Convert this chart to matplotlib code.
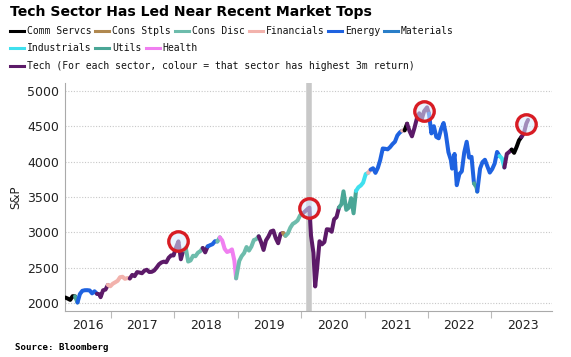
import numpy as np
import pandas as pd
import matplotlib
matplotlib.use("Agg")
import matplotlib.pyplot as plt
from matplotlib.lines import Line2D

# S&P 500, roughly fortnightly closes
dates = [
    "2016-04-15", "2016-04-29", "2016-05-13", "2016-05-27", "2016-06-10", "2016-06-24",
    "2016-07-08", "2016-07-22", "2016-08-05", "2016-08-19", "2016-09-02", "2016-09-16",
    "2016-09-30", "2016-10-14", "2016-10-28", "2016-11-04", "2016-11-18", "2016-12-02",
    "2016-12-16", "2016-12-30",
    "2017-01-13", "2017-01-27", "2017-02-10", "2017-02-24", "2017-03-10", "2017-03-24",
    "2017-04-07", "2017-04-21", "2017-05-05", "2017-05-19", "2017-06-02", "2017-06-16",
    "2017-06-30", "2017-07-14", "2017-07-28", "2017-08-11", "2017-08-25", "2017-09-08",
    "2017-09-22", "2017-10-06", "2017-10-20", "2017-11-03", "2017-11-17", "2017-12-01",
    "2017-12-15", "2017-12-29",
    "2018-01-12", "2018-01-26", "2018-02-09", "2018-02-23", "2018-03-09", "2018-03-23",
    "2018-04-06", "2018-04-20", "2018-05-04", "2018-05-18", "2018-06-01", "2018-06-15",
    "2018-06-29", "2018-07-13", "2018-07-27", "2018-08-10", "2018-08-24", "2018-09-07",
    "2018-09-21", "2018-10-05", "2018-10-19", "2018-11-02", "2018-11-16", "2018-11-30",
    "2018-12-14", "2018-12-24",
    "2019-01-11", "2019-01-25", "2019-02-08", "2019-02-22", "2019-03-08", "2019-03-22",
    "2019-04-05", "2019-04-19", "2019-05-03", "2019-05-17", "2019-05-31", "2019-06-14",
    "2019-06-28", "2019-07-12", "2019-07-26", "2019-08-09", "2019-08-23", "2019-09-06",
    "2019-09-20", "2019-10-04", "2019-10-18", "2019-11-01", "2019-11-15", "2019-11-29",
    "2019-12-13", "2019-12-27",
    "2020-01-10", "2020-01-24", "2020-02-07", "2020-02-19", "2020-02-28", "2020-03-13",
    "2020-03-23", "2020-04-03", "2020-04-17", "2020-05-01", "2020-05-15", "2020-05-29",
    "2020-06-12", "2020-06-26", "2020-07-10", "2020-07-24", "2020-08-07", "2020-08-21",
    "2020-09-02", "2020-09-18", "2020-10-02", "2020-10-16", "2020-10-30", "2020-11-13",
    "2020-11-27", "2020-12-11", "2020-12-24",
    "2021-01-08", "2021-01-22", "2021-02-05", "2021-02-19", "2021-03-05", "2021-03-19",
    "2021-04-01", "2021-04-16", "2021-04-30", "2021-05-14", "2021-05-28", "2021-06-11",
    "2021-06-25", "2021-07-09", "2021-07-23", "2021-08-06", "2021-08-20", "2021-09-03",
    "2021-09-17", "2021-10-01", "2021-10-15", "2021-10-29", "2021-11-12", "2021-11-26",
    "2021-12-10", "2021-12-27",
    "2022-01-07", "2022-01-21", "2022-02-04", "2022-02-18", "2022-03-04", "2022-03-18",
    "2022-04-01", "2022-04-14", "2022-04-29", "2022-05-13", "2022-05-20", "2022-06-03",
    "2022-06-16", "2022-07-01", "2022-07-15", "2022-07-29", "2022-08-12", "2022-08-26",
    "2022-09-09", "2022-09-23", "2022-10-07", "2022-10-12", "2022-10-28", "2022-11-11",
    "2022-11-25", "2022-12-09", "2022-12-23",
    "2023-01-06", "2023-01-20", "2023-02-03", "2023-02-17", "2023-03-03", "2023-03-17",
    "2023-03-31", "2023-04-14", "2023-04-28", "2023-05-12", "2023-05-26", "2023-06-09",
    "2023-06-23", "2023-07-07", "2023-07-21", "2023-07-31",
]
spx = [
    2080, 2065, 2047, 2099, 2096, 2010,
    2130, 2175, 2183, 2184, 2180, 2139,
    2168, 2133, 2126, 2085, 2182, 2192,
    2258, 2239,
    2275, 2295, 2316, 2367, 2373, 2344,
    2355, 2349, 2399, 2382, 2439, 2433,
    2423, 2459, 2472, 2441, 2443, 2461,
    2502, 2549, 2575, 2587, 2578, 2642,
    2675, 2674,
    2786, 2873, 2620, 2747, 2786, 2588,
    2604, 2670, 2663, 2713, 2735, 2780,
    2718, 2801, 2819, 2833, 2875, 2872,
    2930, 2886, 2768, 2723, 2736, 2760,
    2600, 2351,
    2596, 2665, 2708, 2793, 2743, 2800,
    2892, 2905, 2945, 2860, 2752, 2887,
    2942, 3014, 3026, 2919, 2847, 2979,
    2992, 2952, 2986, 3067, 3120, 3141,
    3169, 3240,
    3265, 3295, 3328, 3350, 2954, 2711,
    2237, 2489, 2875, 2831, 2864, 3044,
    3041, 3009, 3185, 3216, 3351, 3397,
    3580, 3319, 3348, 3483, 3270, 3585,
    3638, 3663, 3703,
    3824, 3841, 3886, 3906, 3841, 3913,
    4019, 4185, 4181, 4173, 4204, 4247,
    4280, 4369, 4411, 4436, 4441, 4535,
    4432, 4357, 4471, 4605, 4682, 4595,
    4712, 4766,
    4677, 4398, 4500, 4349, 4329, 4463,
    4545, 4392, 4132, 4023, 3901, 4108,
    3667, 3825, 3863, 4130, 4280, 4057,
    4067, 3693, 3639, 3577, 3901, 3993,
    4026, 3934, 3845,
    3895, 3972, 4136, 4079, 4045, 3917,
    4109, 4137, 4169, 4124, 4205, 4299,
    4348, 4398, 4536, 4589,
]

# leading sector (highest 3m return) from each date onwards
lead_start = [
    "2016-04-15", "2016-06-10", "2016-06-24", "2016-10-14", "2016-12-16", "2017-04-21",
    "2018-02-23", "2018-06-15", "2018-07-13", "2018-09-07", "2018-09-21", "2018-12-24",
    "2019-05-03", "2019-09-20", "2019-10-04", "2020-01-10", "2020-08-07", "2020-11-13",
    "2021-01-22", "2021-02-05", "2021-08-06", "2021-08-20", "2021-09-03", "2022-01-07",
    "2022-09-23", "2022-10-12", "2023-02-17", "2023-03-17", "2023-04-28", "2023-06-23",
]
lead_sector = [
    "Comm Servcs", "Utils", "Energy", "Tech", "Financials", "Tech",
    "Cons Disc", "Tech", "Energy", "Cons Disc", "Health", "Cons Disc",
    "Tech", "Cons Stpls", "Cons Disc", "Tech", "Utils", "Industrials",
    "Financials", "Energy", "Financials", "Comm Servcs", "Tech", "Energy",
    "Utils", "Energy", "Industrials", "Tech", "Comm Servcs", "Tech",
]

sectors = ["Comm Servcs", "Cons Stpls", "Cons Disc", "Financials", "Energy", "Materials",
           "Industrials", "Utils", "Health",
           "Tech (For each sector, colour = that sector has highest 3m return)"]
colours = ["#000000", "#b0884f", "#6dbcac", "#f2b2ac", "#1e62e0", "#2a7ec8",
           "#3fe0ee", "#4aa696", "#f07ff0", "#5c1a68"]
col = dict(zip([s.split(" (")[0] for s in sectors], colours))

tops = ["2018-01-26", "2020-02-19", "2021-12-10", "2023-07-21"]

d = pd.to_datetime(dates)
v = np.array(spx, dtype=float)
ls = pd.to_datetime(lead_start)
idx = np.searchsorted(ls.values, d.values, side="right") - 1
lead = [lead_sector[i] for i in idx]

fig = plt.figure(figsize=(5.71, 3.57), dpi=100)
ax = fig.add_axes([0.1138, 0.1289, 0.8529, 0.6386])

# draw the line in runs of the same leading sector
start = 0
for i in range(1, len(d) + 1):
    if i == len(d) or lead[i] != lead[start]:
        end = min(i, len(d) - 1)
        ax.plot(d[start:end + 1], v[start:end + 1], color=col[lead[start]], lw=2.9,
                solid_joinstyle="round", solid_capstyle="round", zorder=3)
        start = i

ax.axvline(pd.Timestamp("2020-02-19"), color="#c8c8c8", lw=4, zorder=1)

tp = pd.to_datetime(tops)
tv = [v[list(d).index(t)] for t in tp]
ax.plot(tp, tv, "o", ms=14, mfc=(0.85, 0.92, 1.0, 0.55), mec="#d81c24", mew=2.4, zorder=5)

ax.set_ylim(1890, 5110)
x0, x1 = pd.Timestamp("2016-04-13"), pd.Timestamp("2023-12-16")
ax.set_xlim(x0, x1)
ax.set_yticks(np.arange(2000, 5001, 500))
ax.yaxis.grid(True, ls=(0, (1, 1.5)), color="#c8c8c8", lw=0.8)
ax.set_axisbelow(True)
ax.tick_params(axis="y", length=0, labelsize=9, colors="#222222", pad=4)
ax.set_ylabel("S&P", fontsize=8.5, color="#222222", labelpad=4)

years = list(range(2016, 2024))
ax.set_xticks([pd.Timestamp(f"{y}-01-01") for y in years[1:]])
ax.set_xticklabels([])
ax.tick_params(axis="x", which="major", length=5, color="#bbbbbb")
mids = [x0 + (pd.Timestamp("2017-01-01") - x0) / 2] + [pd.Timestamp(f"{y}-07-01") for y in years[1:]]
ax.set_xticks(mids, minor=True)
ax.set_xticklabels([str(y) for y in years], minor=True)
ax.tick_params(axis="x", which="minor", length=0, labelsize=9, colors="#222222", pad=6)

for s in ["top", "right"]:
    ax.spines[s].set_visible(False)
ax.spines["left"].set_color("#aaaaaa")
ax.spines["bottom"].set_color("#aaaaaa")

fig.text(0.0175, 0.965, "Tech Sector Has Led Near Recent Market Tops", fontsize=10.1,
         fontweight="bold", va="center", ha="left")

# legend, laid out as flowing text
mono = "DejaVu Sans Mono"
cw = 5.85
rows = [(31, sectors[:6]), (48, sectors[6:9]), (66, sectors[9:])]
k = 0
for yp, labs in rows:
    x = 10
    for lab in labs:
        yf = 1 - yp / 357
        fig.add_artist(Line2D([x / 571, (x + 14) / 571], [yf, yf], color=colours[k], lw=2.2))
        fig.text((x + 17) / 571, yf, lab, fontfamily=mono, fontsize=7.0, va="center",
                 ha="left", color="#111111")
        x += 17 + len(lab) * cw + 4
        k += 1

fig.text(15 / 571, 1 - 348 / 357, "Source: Bloomberg", fontfamily=mono, fontsize=6.6,
         fontweight="bold", va="center", ha="left")

fig.savefig("out.png", dpi=100)
